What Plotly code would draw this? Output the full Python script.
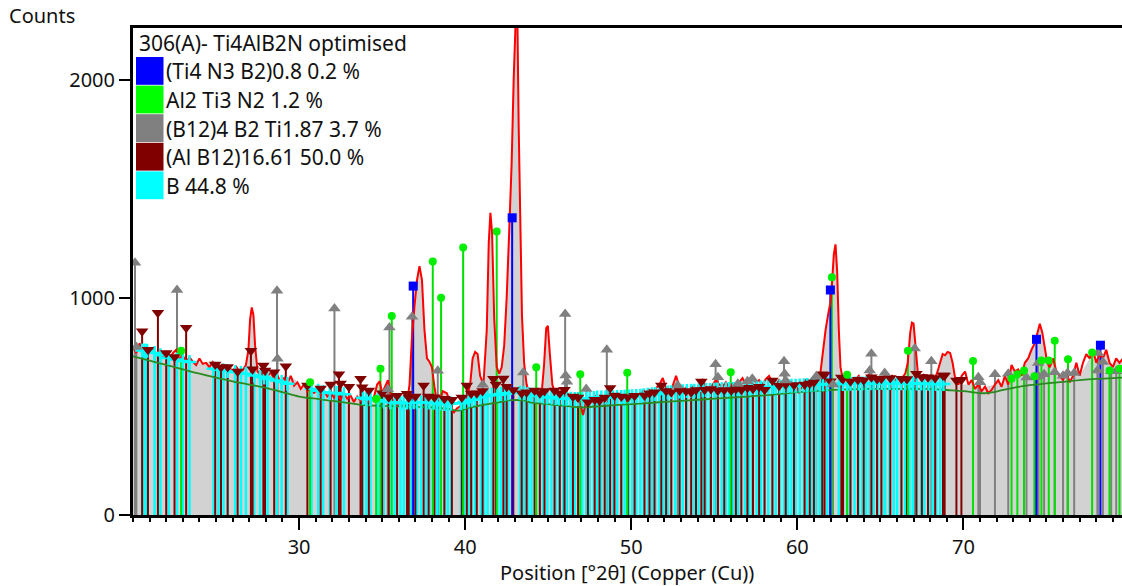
import plotly.graph_objects as go

# ---------------- data ----------------
prof_x = [20.0,20.2,20.4,20.6,20.8,21.0,21.2,21.4,21.6,21.8,22.0,22.2,22.4,22.6,22.8,23.0,23.2,23.4,23.6,23.8,
          24.0,24.2,24.4,24.6,24.8,25.0,25.2,25.4,25.6,25.8,26.0,26.2,26.4,26.6,26.8,26.95,27.05,27.15,27.25,27.35,
          27.5,27.7,27.9,28.1,28.3,28.5,28.7,28.9,29.1,29.3,29.5,29.7,29.9,30.1,30.3,30.5,30.7,30.9,31.1,31.3,
          31.5,31.7,31.9,32.1,32.3,32.5,32.7,32.9,33.1,33.3,33.5,33.7,33.9,34.1,34.3,34.5,34.7,34.85,35.0,35.2,
          35.35,35.5,35.7,35.9,36.1,36.3,36.5,36.65,36.8,36.95,37.1,37.25,37.4,37.55,37.7,37.85,38.0,38.15,38.3,38.5,
          38.65,38.9,39.1,39.3,39.5,39.7,39.9,40.1,40.3,40.45,40.6,40.75,40.9,41.1,41.3,41.42,41.52,41.62,41.75,41.9,
          42.05,42.2,42.35,42.5,42.65,42.8,42.92,43.02,43.12,43.22,43.32,43.42,43.55,43.7,43.85,44.0,44.2,44.4,44.6,44.75,
          44.88,44.98,45.1,45.25,45.4,45.6,45.8,46.0,46.2,46.4,46.6,46.8,47.0,47.1,47.3,47.5,47.7,47.9,48.1,48.3,
          48.5,48.7,48.9,49.1,49.3,49.5,49.7,49.9,50.1,50.3,50.5,50.7,50.9,51.1,51.3,51.5,51.7,51.9,52.1,52.3,
          52.5,52.7,52.9,53.1,53.3,53.5,53.7,53.9,54.1,54.3,54.5,54.7,54.9,55.1,55.3,55.5,55.7,55.9,56.1,56.3,
          56.5,56.7,56.9,57.1,57.3,57.5,57.7,57.9,58.1,58.3,58.5,58.7,58.9,59.1,59.3,59.5,59.7,59.9,60.1,60.3,
          60.5,60.7,60.9,61.1,61.25,61.4,61.55,61.7,61.85,62.0,62.1,62.2,62.3,62.4,62.5,62.6,62.75,62.9,63.1,63.3,
          63.5,63.7,63.9,64.1,64.3,64.5,64.7,64.9,65.1,65.3,65.5,65.7,65.9,66.1,66.3,66.5,66.65,66.8,66.9,67.0,
          67.1,67.25,67.4,67.6,67.8,68.0,68.2,68.4,68.6,68.75,68.9,69.05,69.2,69.35,69.5,69.7,69.9,70.1,70.3,70.5,
          70.7,70.9,71.1,71.3,71.5,71.7,71.9,72.1,72.3,72.5,72.7,72.9,73.1,73.3,73.5,73.7,73.9,74.1,74.3,74.45,
          74.6,74.75,74.9,75.05,75.2,75.4,75.6,75.8,76.0,76.2,76.4,76.6,76.8,77.0,77.2,77.4,77.6,77.8,78.0,78.2,
          78.4,78.6,78.8,79.0,79.2,79.4,79.6,79.8]
prof_y = [770,745,790,760,775,745,770,735,760,730,750,720,745,760,715,735,700,725,705,690,
          720,695,700,680,705,690,665,695,670,680,655,685,660,665,690,760,900,955,920,780,
          660,645,670,640,655,625,640,610,630,605,640,595,610,580,600,570,590,560,585,550,
          570,545,565,540,555,530,560,535,550,520,545,525,540,515,535,540,600,615,560,590,
          620,560,520,500,530,495,515,600,820,960,1080,1145,1080,850,720,705,680,590,520,530,
          570,560,510,470,490,500,520,540,600,720,750,740,640,600,850,1250,1390,1300,900,680,
          650,680,780,1000,1300,1620,2000,2400,2450,1800,1300,920,700,600,560,570,545,560,555,690,
          860,870,740,600,560,545,565,535,555,530,520,540,490,460,530,545,525,550,530,545,
          520,540,555,530,550,535,525,555,540,560,545,570,550,575,560,585,600,630,580,570,
          595,640,590,570,585,565,590,575,600,625,590,580,600,620,600,590,610,585,605,590,
          610,630,600,615,640,610,620,600,625,640,610,595,620,600,580,605,590,610,560,600,
          620,600,630,640,625,660,760,850,920,980,1080,1200,1245,1120,850,680,620,600,630,610,
          625,640,615,630,645,620,635,615,630,650,625,640,620,635,630,650,700,840,885,880,
          800,660,630,645,625,640,620,650,700,740,735,750,745,700,630,600,640,660,600,620,
          580,600,570,590,560,575,600,620,590,640,600,690,660,670,640,700,720,760,790,830,
          880,840,760,700,680,720,660,640,620,660,610,640,700,640,700,740,720,760,700,740,
          720,760,700,680,720,700,720,690]

bg_x = [20.0,21,22,23,24,25,26,27,28,29,30,31,32,33,34,35,36,37,38,39,39.6,40.3,41,42,42.6,43.5,44,45,46,47,
        48,49,50,51,52,53,54,55,56,57,58,59,60,61,62,63,64,65,66,67,68,69,70,71.3,72,73,74,75,76,77,78,79,79.8]
bg_y = [730,710,690,670,650,632,615,600,585,565,545,535,525,515,505,502,500,498,495,488,480,495,505,518,527,527,517,510,502,495,
        500,505,510,515,520,525,530,535,540,545,550,557,565,570,575,578,580,580,580,580,580,575,570,560,568,585,597,605,612,620,626,630,632]

# white gaps in the calculated fill
gap_lo = [23.35, 29.65, 39.35, 69.85, 71.45, 77.05]
gap_hi = [24.6, 30.35, 39.6, 70.25, 71.85, 77.5]

# Ti4 N3 B2 (blue)
blue_pos = [36.87, 42.83, 61.99, 74.4, 78.25]
blue_h = [1053, 1367, 1035, 808, 781]

# Al2 Ti3 N2 (green)
green_pos = [22.9, 30.66, 34.64, 34.9, 35.58, 38.05, 38.55, 39.88, 41.9, 44.28, 46.93, 49.76, 55.99, 62.08, 63.0,
             66.66, 70.58, 72.9, 73.25, 73.65, 74.28, 74.7, 75.14, 75.5, 76.3, 77.75, 78.8, 79.4]
green_h = [755, 611, 534, 673, 915, 1166, 999, 1230, 1304, 680, 647, 654, 657, 1093, 645,
           755, 708, 627, 647, 665, 638, 711, 711, 801, 716, 747, 665, 673]

# (B12)4 B2 Ti1.87 (grey)
grey_pos = [20.12, 20.2, 22.65, 28.67, 28.7, 32.13, 35.34, 35.44, 36.8, 38.35, 41.06, 43.5, 46.02, 46.05, 46.13, 47.29,
            48.53, 52.8, 55.08, 55.22, 56.42, 57.0, 57.29, 59.2, 59.24, 59.3, 61.14, 62.15, 64.36, 64.46, 65.26, 67.07,
            68.07, 70.9, 71.0, 71.9, 72.7, 73.8, 74.3, 74.5, 74.52, 74.86, 75.5, 76.0, 76.27, 76.67, 78.07, 78.1, 78.4,
            78.9, 79.2]
grey_h = [1160, 773, 1035, 1032, 719, 950, 578, 862, 912, 663, 599, 655, 925, 642, 613, 580,
          760, 596, 693, 634, 604, 615, 627, 707, 650, 619, 638, 600, 665, 742, 653, 766,
          707, 634, 611, 647, 650, 632, 634, 699, 638, 647, 657, 640, 653, 653, 665, 745, 704,
          661, 661]

# (Al B12)16.61 (dark red)
alb_pos = [20.55, 20.9, 21.5, 22.0, 22.5, 23.2, 24.95, 25.3, 25.7, 26.3, 27.1, 27.2, 27.85, 27.95, 28.5, 29.2, 30.5,
           31.3, 31.9, 32.4, 32.5, 33.0, 33.7, 33.8, 34.2, 35.0, 35.4, 35.9, 36.5, 36.6, 37.0, 37.5, 37.8, 38.15,
           38.75, 39.2, 39.8, 40.1, 40.36, 40.7, 41.05, 41.7, 41.85, 42.3, 42.5, 42.9, 43.4, 43.7, 44.18, 44.5,
           44.78, 45.38, 45.7, 45.98, 46.49, 46.8, 47.39, 47.8, 48.09, 48.4, 48.73, 48.99, 49.4, 49.8, 50.2, 50.8,
           51.1, 51.4, 51.81, 52.1, 52.41, 52.91, 53.3, 53.61, 53.9, 54.22, 54.42, 54.8, 55.22, 55.6, 56.02, 56.3,
           56.63, 57.0, 57.33, 57.7, 58.03, 58.5, 58.9, 59.3, 59.8, 60.44, 60.75, 61.0, 61.5, 61.64, 62.0, 62.65,
           62.75, 63.2, 63.65, 64.0, 64.46, 64.8, 65.06, 65.6, 66.27, 66.6, 67.17, 67.5, 67.87, 68.3, 68.77, 68.87,
           69.58, 69.88]
alb_h = [845, 760, 930, 745, 727, 861, 692, 680, 681, 660, 755, 670, 688, 665, 657, 684, 596,
         582, 600, 647, 605, 590, 627, 588, 573, 560, 542, 548, 558, 540, 545, 596, 545, 542,
         535, 530, 540, 596, 559, 560, 570, 627, 600, 628, 590, 575, 560, 565, 573, 560,
         570, 573, 560, 576, 545, 540, 519, 530, 527, 540, 584, 550, 545, 542, 548, 550,
         560, 565, 596, 570, 565, 573, 570, 565, 575, 614, 576, 580, 573, 575, 573, 580,
         576, 585, 581, 590, 576, 619, 595, 600, 598, 600, 605, 611, 647, 645, 615, 632,
         625, 615, 622, 620, 634, 625, 627, 630, 627, 625, 650, 635, 634, 630, 642, 642,
         619, 622]

# B (cyan)
b_pos = [20.55, 20.7, 20.85, 21.3, 21.65, 22.15, 22.65, 23.0, 23.4, 24.85, 25.15, 25.45, 25.7, 26.15, 26.5, 26.8,
         27.3, 27.65, 27.9, 28.1, 28.65, 28.95, 29.3, 30.75, 31.15, 31.45, 31.85, 32.25, 32.7, 33.85, 34.05, 34.3,
         34.75, 35.1, 35.5, 35.75,
         36.1, 36.3, 36.5, 36.7, 36.9, 37.1, 37.35, 37.65, 37.85, 38.1, 38.3, 38.5, 38.75, 38.95, 39.15, 39.75,
         39.95, 40.2, 40.4, 40.6, 40.95, 41.15, 41.35, 41.6, 41.95, 42.15, 42.4, 42.6, 43.3, 43.55, 43.8, 44.0,
         44.25, 44.5, 44.7, 44.95, 45.2, 45.45, 45.65, 45.9, 46.1, 46.35, 46.6, 46.8, 47.05, 47.3, 47.5, 47.75,
         47.95, 48.2, 48.45, 48.65, 48.9, 49.15, 49.4, 49.6, 49.85, 50.05, 50.3, 50.55, 50.75, 51.0, 51.25, 51.45,
         51.7, 51.95, 52.2, 52.4, 52.65, 52.9, 53.1, 53.35, 53.6, 53.8, 54.05, 54.3, 54.5, 54.75, 55.0, 55.2,
         55.45, 55.7, 55.9, 56.15, 56.4, 56.6, 56.85, 57.1, 57.3, 57.55, 57.8, 58.0, 58.25, 58.5, 58.7, 58.95,
         59.2, 59.45, 59.65, 59.9, 60.15, 60.4, 60.6, 60.85, 61.1, 61.35, 61.55, 61.8, 62.5, 62.75, 63.0, 63.2,
         63.45, 63.7, 63.9, 64.15, 64.4, 64.6, 64.85, 65.1, 65.3, 65.55, 65.8, 66.0, 66.25, 66.5, 66.75, 66.95,
         67.2, 67.45, 67.65, 67.9, 68.15, 68.35, 68.6, 68.8]
b_h = [757, 757, 755, 745, 735, 722, 715, 708, 704, 673, 668, 665, 662, 657, 653, 650,
       642, 636, 632, 627, 619, 612, 604, 581, 572, 565, 561, 561, 555, 539, 534, 534,
       528, 522, 519, 517,
       514, 516, 517, 518, 519, 518, 518, 517, 518, 516, 514, 513, 511, 512, 513, 514,
       520, 527, 530, 536, 542, 546, 550, 552, 553, 556, 558, 560, 562, 560, 556, 553,
       550, 548, 545, 542, 540, 538, 537, 536, 535, 535, 534, 534, 534, 536, 537, 538,
       540, 540, 541, 542, 542, 543, 543, 544, 545, 546, 547, 549, 551, 553, 555, 557,
       560, 562, 564, 565, 566, 568, 569, 570, 571, 572, 573, 574, 575, 575, 576, 577,
       578, 578, 579, 580, 580, 581, 582, 583, 584, 585, 586, 587, 588, 589, 590, 591,
       592, 593, 594, 595, 596, 597, 598, 599, 600, 601, 601, 602, 603, 603, 604, 604,
       605, 605, 605, 606, 606, 606, 607, 607, 607, 607, 607, 607, 606, 606, 606, 605,
       605, 605, 604, 604, 603, 603, 602, 602]

x_ticks = [30, 40, 50, 60, 70]
y_ticks = [0, 1000, 2000]

legend_title = "306(A)- Ti4AlB2N optimised"
legend_labels = ["(Ti4 N3 B2)0.8 0.2 %", "Al2 Ti3 N2 1.2 %", "(B12)4 B2 Ti1.87 3.7 %",
                 "(Al B12)16.61 50.0 %", "B 44.8 %"]
legend_colors = ["#0000ff", "#00ff00", "#808080", "#800000", "#00ffff"]

# ---------------- figure ----------------
W, H = 1122, 586
# plot area in page pixels: left 133, right 1122, top 28, bottom 515
ML, MR, MT, MB = 133, 0, 28, H - 515
PW, PH = W - ML - MR, H - MT - MB
FONT = "Noto Sans"
FS = 21
FT = 20


def sticks(pos, h):
    xs, ys = [], []
    for p, v in zip(pos, h):
        xs += [p, p, None]
        ys += [0, v, None]
    return xs, ys


def in_gap(x):
    return any(lo <= x <= hi for lo, hi in zip(gap_lo, gap_hi))


fig = go.Figure()

fill_y = [None if in_gap(x) else y for x, y in zip(prof_x, prof_y)]
fig.add_trace(go.Scatter(x=prof_x, y=fill_y, mode="lines", line=dict(width=0, color="#d2d2d2"),
                         fill="tozeroy", fillcolor="#d2d2d2", connectgaps=False, hoverinfo="skip"))

stick_sets = [
    (grey_pos, grey_h, "#808080", 2),
    (b_pos, b_h, "#00ffff", 2.5),
    (alb_pos, alb_h, "#800000", 2),
    (green_pos, green_h, "#00e000", 2),
    (blue_pos, blue_h, "#0000ff", 2),
]
for pos, h, col, w in stick_sets:
    xs, ys = sticks(pos, h)
    fig.add_trace(go.Scatter(x=xs, y=ys, mode="lines", line=dict(color=col, width=w), hoverinfo="skip"))

fig.add_trace(go.Scatter(x=prof_x, y=prof_y, mode="lines", line=dict(color="#ff0000", width=2)))
fig.add_trace(go.Scatter(x=bg_x, y=bg_y, mode="lines", line=dict(color="#2a8a20", width=1.8), line_shape="spline"))

fig.add_trace(go.Scatter(x=b_pos, y=b_h, mode="markers",
                         marker=dict(symbol="cross-thin", size=10, line=dict(color="#00ffff", width=2.5))))
fig.add_trace(go.Scatter(x=alb_pos, y=alb_h, mode="markers",
                         marker=dict(symbol="triangle-down", size=11, color="#800000")))
fig.add_trace(go.Scatter(x=grey_pos, y=grey_h, mode="markers",
                         marker=dict(symbol="triangle-up", size=11, color="#808080")))
fig.add_trace(go.Scatter(x=green_pos, y=green_h, mode="markers",
                         marker=dict(symbol="circle", size=8, color="#00ee00")))
fig.add_trace(go.Scatter(x=blue_pos, y=blue_h, mode="markers",
                         marker=dict(symbol="square", size=9, color="#0000ff")))


def px2x(px):
    return (px - ML) / PW


def py2y(py):
    return (H - MB - py) / PH


shapes = []
annotations = []
row_top = 57.0
row_h = 28.6
for i, (lab, col) in enumerate(zip(legend_labels, legend_colors)):
    t = row_top + i * row_h
    shapes.append(dict(type="rect", xref="paper", yref="paper",
                       x0=px2x(136), x1=px2x(163.5), y0=py2y(t + row_h - 0.8), y1=py2y(t),
                       fillcolor=col, line=dict(width=0), layer="above"))
    annotations.append(dict(text=lab, xref="paper", yref="paper", x=px2x(164), y=py2y(t + row_h / 2),
                            xanchor="left", yanchor="middle", showarrow=False,
                            font=dict(family=FONT, size=FS, color="#111")))
annotations.append(dict(text=legend_title, xref="paper", yref="paper", x=px2x(137), y=py2y(43),
                        xanchor="left", yanchor="middle", showarrow=False,
                        font=dict(family=FONT, size=FS, color="#111")))
annotations.append(dict(text="Counts", xref="paper", yref="paper", x=px2x(7), y=py2y(15),
                        xanchor="left", yanchor="middle", showarrow=False,
                        font=dict(family=FONT, size=FT, color="#111")))
annotations.append(dict(text="Position [°2θ] (Copper (Cu))", xref="paper", yref="paper",
                        x=px2x(627), y=py2y(572), xanchor="center", yanchor="middle", showarrow=False,
                        font=dict(family=FONT, size=FT, color="#111")))

fig.update_layout(
    width=W, height=H,
    margin=dict(l=ML, r=MR, t=MT, b=MB, pad=0),
    paper_bgcolor="white", plot_bgcolor="white",
    showlegend=False,
    shapes=shapes, annotations=annotations,
    font=dict(family=FONT, size=FT, color="#111"),
)
fig.update_xaxes(range=[20.0, 79.55], showgrid=False, zeroline=False,
                 showline=True, linecolor="black", linewidth=3, mirror=True,
                 tickmode="array", tickvals=x_ticks, ticks="outside", ticklen=12, tickwidth=2, tickcolor="black",
                 minor=dict(tickmode="linear", tick0=0, dtick=1, ticks="outside", ticklen=4, tickwidth=1.5,
                            tickcolor="black"),
                 tickfont=dict(family=FONT, size=FT, color="#111"))
fig.update_yaxes(range=[0, 2240], showgrid=False, zeroline=False,
                 showline=True, linecolor="black", linewidth=3,
                 tickvals=y_ticks, ticks="outside", ticklen=11, tickwidth=2, tickcolor="black",
                 tickfont=dict(family=FONT, size=FT, color="#111"))

fig.write_html("out.html", config={"displayModeBar": False},
               post_script="document.body.style.margin='0';document.body.style.overflow='hidden';")
